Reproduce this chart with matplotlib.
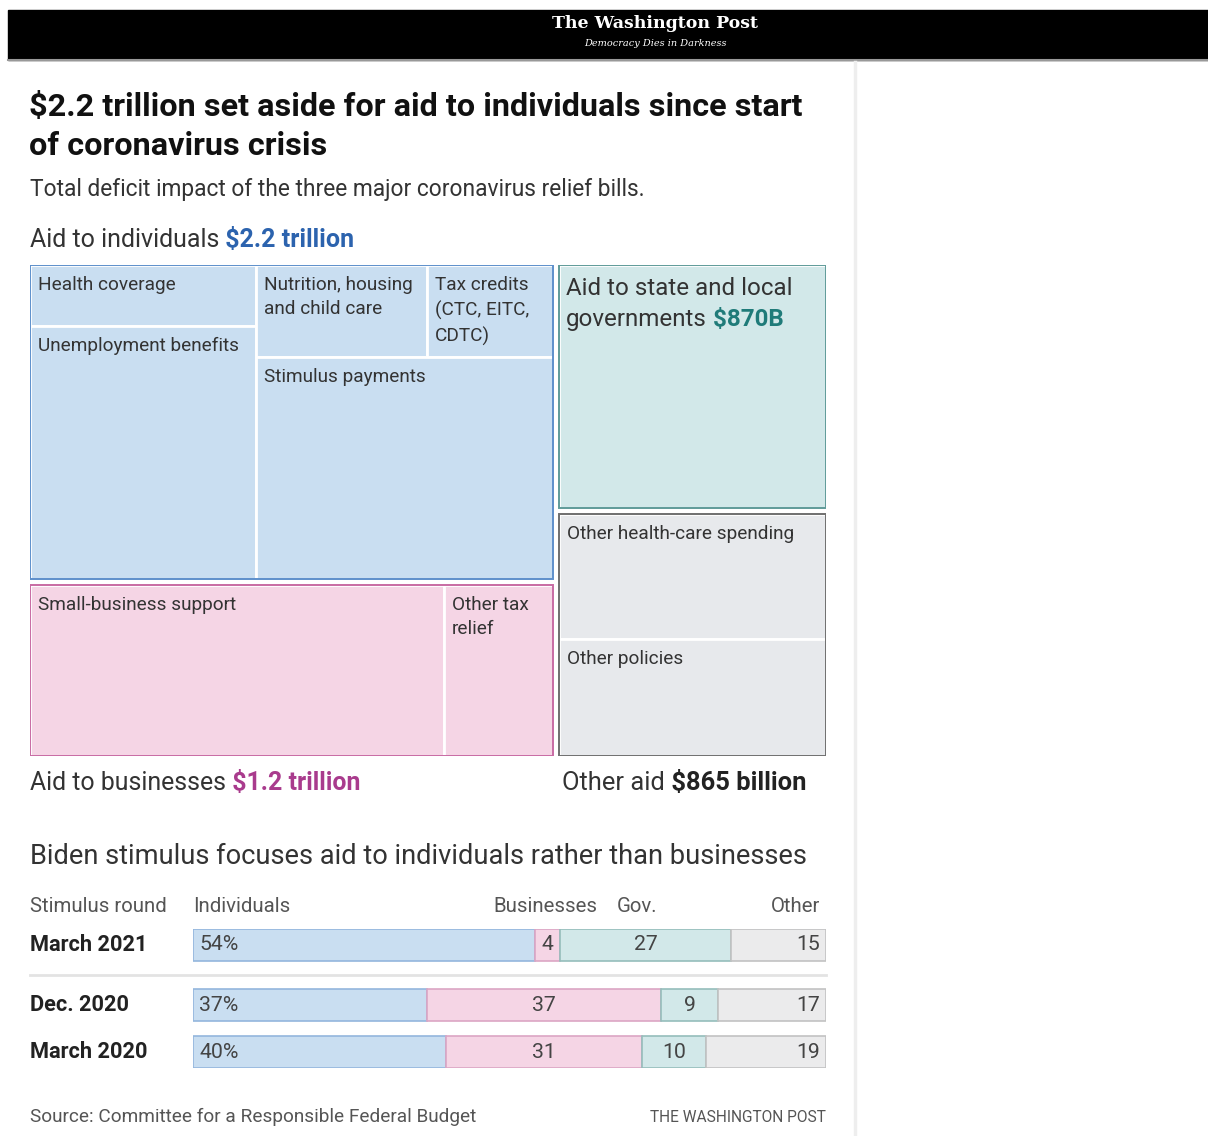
import matplotlib.pyplot as plt
from matplotlib.patches import Rectangle
from matplotlib.lines import Line2D

plt.rcParams["font.family"] = ["Roboto", "DejaVu Sans"]

# treemap values, billions of dollars
individual_items = ["Health coverage", "Unemployment benefits",
                    "Nutrition, housing\nand child care",
                    "Tax credits\n(CTC, EITC,\nCDTC)", "Stimulus payments"]
individual_values = [185, 765, 210, 155, 885]
business_items = ["Small-business support", "Other tax\nrelief"]
business_values = [950, 250]
state_value = 870
other_items = ["Other health-care spending", "Other policies"]
other_values = [445, 420]

# stimulus rounds, shares in percent
rounds = ["March 2021", "Dec. 2020", "March 2020"]
shares_individuals = [54, 37, 40]
shares_businesses = [4, 37, 31]
shares_gov = [27, 9, 10]
shares_other = [15, 17, 19]

W, H = 1208, 1136
fig = plt.figure(figsize=(W / 100, H / 100), dpi=100)


def fx(x):
    return x / W


def fy(y):
    return 1 - y / H


def pt(px):
    return px * 0.72


def ftext(x, y, s, size, **kw):
    return fig.text(fx(x), fy(y), s, fontsize=size, **kw)


# header bar
fig.patches.append(Rectangle((fx(8), fy(60)), 1200 / W, 50 / H,
                             transform=fig.transFigure, color="black"))
fig.lines.append(Line2D([fx(8), 1], [fy(60), fy(60)], transform=fig.transFigure,
                        color="#999999", lw=1.5))
fig.lines.append(Line2D([fx(855), fx(855)], [fy(62), 0], transform=fig.transFigure,
                        color="#eeeeee", lw=2.5))
ftext(655, 24, "The Washington Post", 12.5, color="white", ha="center", va="center",
      family="DejaVu Serif", fontweight="bold")
ftext(655, 44, "Democracy Dies in Darkness", 7, color="white", ha="center", va="center",
      family="DejaVu Serif", style="italic")

# titles
ftext(29, 107, "$2.2 trillion set aside for aid to individuals since start",
      23.3, color="#111111", fontweight="bold", va="center")
ftext(29, 146, "of coronavirus crisis", 23.3, color="#111111", fontweight="bold",
      va="center")
ftext(30, 190, "Total deficit impact of the three major coronavirus relief bills.",
      16.4, color="#333333", va="center")

# treemap
ax = fig.add_axes([fx(30), fy(756), 796 / W, 491 / H])
ax.set_xlim(0, 1)
ax.set_ylim(1, 0)
ax.axis("off")
gx, gy = 6 / 796, 6 / 491


def split(rect, weights, horizontal, gap=0.0):
    x, y, w, h = rect
    total = sum(weights)
    out = []
    if horizontal:
        avail = w - gap * (len(weights) - 1)
        for v in weights:
            ww = avail * v / total
            out.append((x, y, ww, h))
            x += ww + gap
    else:
        avail = h - gap * (len(weights) - 1)
        for v in weights:
            hh = avail * v / total
            out.append((x, y, w, hh))
            y += hh + gap
    return out


ind_total = sum(individual_values)
bus_total = sum(business_values)
oth_total = sum(other_values)
left, right = split((0, 0, 1, 1), [ind_total + bus_total, state_value + oth_total],
                    True, gx)
r_ind, r_bus = split(left, [ind_total, bus_total], False, gy)
r_state, r_other = split(right, [state_value, oth_total], False, gy)

col_a, col_b = split(r_ind, [individual_values[0] + individual_values[1],
                             sum(individual_values[2:])], True)
r_health, r_unemp = split(col_a, individual_values[:2], False)
top_row, r_stim = split(col_b, [individual_values[2] + individual_values[3],
                                individual_values[4]], False)
r_nutr, r_tax = split(top_row, individual_values[2:4], True)
ind_rects = [r_health, r_unemp, r_nutr, r_tax, r_stim]
bus_rects = split(r_bus, business_values, True)
oth_rects = split(r_other, other_values, False)

groups = [
    (ind_rects, individual_items, r_ind, "#c9def1", "#5d8fcb"),
    (bus_rects, business_items, r_bus, "#f5d5e5", "#c86aa3"),
    (oth_rects, other_items, r_other, "#e7e9ec", "#6f6f6f"),
    ([r_state], [""], r_state, "#d2e8e9", "#5f9b99"),
]
for rects, names, outer, fill, edge in groups:
    for (x, y, w, h), name in zip(rects, names):
        ax.add_patch(Rectangle((x, y), w, h, facecolor=fill, edgecolor="white",
                               lw=2))
        if name:
            ax.annotate(name, xy=(x, y), xytext=(pt(8), -pt(11)),
                        textcoords="offset points", ha="left", va="top",
                        fontsize=13.7, color="#333333", linespacing=1.45)
    x, y, w, h = outer
    ax.add_patch(Rectangle((x, y), w, h, fill=False, edgecolor=edge, lw=1.4))

x, y, w, h = r_state
ax.annotate("Aid to state and local", xy=(x, y), xytext=(pt(7), -pt(12)),
            textcoords="offset points", ha="left", va="top", fontsize=17.4,
            color="#333333")
t_gov = ax.annotate("governments", xy=(x, y), xytext=(pt(7), -pt(43)),
                    textcoords="offset points", ha="left", va="top", fontsize=17.4,
                    color="#333333")
ax.annotate(" $870B", xy=(1, 0.5), xycoords=t_gov, ha="left", va="center",
            fontsize=17.4, color="#1f7b79", fontweight="bold")


def pair(x, y, s1, s2, size, c2):
    t = ftext(x, y, s1, size, color="#333333", va="center")
    ax.annotate(s2, xy=(1, 0.5), xycoords=t, ha="left", va="center", fontsize=size,
                color=c2, fontweight="bold", annotation_clip=False)


pair(30, 240, "Aid to individuals", " $2.2 trillion", 18, "#2c63ae")
pair(30, 783, "Aid to businesses", " $1.2 trillion", 17.9, "#a93b8d")
pair(562, 783, "Other aid", " $865 billion", 18.4, "#222222")

# stimulus rounds
ftext(30, 857, "Biden stimulus focuses aid to individuals rather than businesses",
      19.6, color="#333333", va="center")
hdr = dict(color="#555555", va="center")
ftext(30, 906, "Stimulus round", 14.7, **hdr)
ftext(193, 906, "Individuals", 14.7, **hdr)
ftext(597, 906, "Businesses", 14.7, ha="right", **hdr)
ftext(617, 906, "Gov.", 14.7, **hdr)
ftext(820, 906, "Other", 14.7, ha="right", **hdr)
fig.lines.append(Line2D([fx(30), fx(826)], [fy(975), fy(975)],
                        transform=fig.transFigure, color="#e3e3e3", lw=2))

axb = fig.add_axes([fx(193), fy(1068), 633 / W, 139 / H])
row_pos = [0, 1.277, 2.277]
bar_h = 0.68
segments = [
    (shares_individuals, "#c9def1", "#93b6dd"),
    (shares_businesses, "#f5d5e5", "#dba5c4"),
    (shares_gov, "#d2e8e9", "#95bdbb"),
    (shares_other, "#ebebec", "#c2c2c2"),
]
lefts = [0] * len(rounds)
for k, (vals, fill, edge) in enumerate(segments):
    axb.barh(row_pos, vals, left=lefts, height=bar_h, color=fill, edgecolor=edge,
             lw=1.2)
    for i, v in enumerate(vals):
        if k == 0:
            axb.annotate(f"{v}%", xy=(lefts[i], row_pos[i]), xytext=(pt(6), 0),
                         textcoords="offset points", ha="left", va="center",
                         fontsize=15.3, color="#444444")
        elif k == len(segments) - 1:
            axb.annotate(f"{v}", xy=(lefts[i] + v, row_pos[i]), xytext=(-pt(6), 0),
                         textcoords="offset points", ha="right", va="center",
                         fontsize=15.3, color="#444444")
        else:
            axb.text(lefts[i] + v / 2, row_pos[i], f"{v}", ha="center",
                     va="center", fontsize=15.3, color="#444444")
    lefts = [a + b for a, b in zip(lefts, vals)]
for name, yp in zip(rounds, row_pos):
    axb.annotate(name, xy=(fx(30), yp), xycoords=("figure fraction", "data"),
                 ha="left", va="center", fontsize=15.7, fontweight="bold",
                 color="#222222", annotation_clip=False)
axb.set_xlim(0, 100)
axb.set_ylim(row_pos[-1] + bar_h / 2, row_pos[0] - bar_h / 2)
axb.axis("off")

ftext(30, 1117, "Source: Committee for a Responsible Federal Budget", 13.7,
      color="#555555", va="center")
ftext(826, 1117, "THE WASHINGTON POST", 11.2, color="#555555", ha="right",
      va="center")

fig.savefig("out.png", dpi=100, facecolor="white")
